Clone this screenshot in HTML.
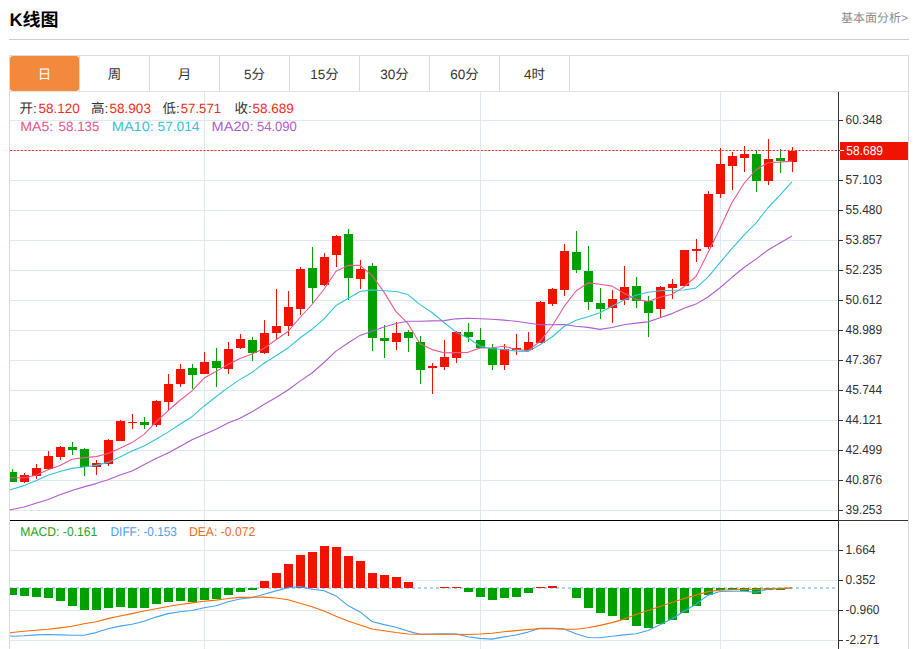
<!DOCTYPE html>
<html><head><meta charset="utf-8"><title>K线图</title>
<style>
html,body{margin:0;padding:0;background:#fff;}
body{width:913px;height:649px;overflow:hidden;position:relative;}
svg{position:absolute;left:0;top:0;display:block;}
text{white-space:pre;}
.c{font-family:"Liberation Sans","Noto Sans CJK SC",sans-serif;}
</style></head>
<body>
<svg width="913" height="649" viewBox="0 0 913 649" shape-rendering="crispEdges" text-rendering="geometricPrecision">
<defs>
<clipPath id="clipMain"><rect x="10" y="92" width="828" height="428"/></clipPath>
<clipPath id="clipMacd"><rect x="10" y="521" width="828" height="128"/></clipPath>
</defs>
<text x="9.5" y="25.5" class="c" font-size="18" font-weight="bold" fill="#000">K线图</text>
<text x="908" y="22.2" text-anchor="end" class="c" font-size="12" fill="#8c8c8c">基本面分析&gt;</text>
<rect x="9" y="39" width="900" height="1" fill="#cfcfcf"/>
<rect x="9" y="55" width="900" height="1" fill="#dedede"/>
<rect x="9" y="91" width="900" height="1" fill="#e3e3e3"/>
<rect x="10" y="56" width="69" height="35" rx="3" fill="#f28a3e" shape-rendering="geometricPrecision"/>
<text x="44.5" y="78.8" text-anchor="middle" class="c" font-size="13.5" fill="#fff">日</text>
<rect x="79" y="56" width="1" height="35" fill="#dadada"/>
<text x="114.5" y="78.8" text-anchor="middle" class="c" font-size="13.5" fill="#333">周</text>
<rect x="149" y="56" width="1" height="35" fill="#dadada"/>
<text x="184.5" y="78.8" text-anchor="middle" class="c" font-size="13.5" fill="#333">月</text>
<rect x="219" y="56" width="1" height="35" fill="#dadada"/>
<text x="254.5" y="78.8" text-anchor="middle" class="c" font-size="13.5" fill="#333">5分</text>
<rect x="289" y="56" width="1" height="35" fill="#dadada"/>
<text x="324.5" y="78.8" text-anchor="middle" class="c" font-size="13.5" fill="#333">15分</text>
<rect x="359" y="56" width="1" height="35" fill="#dadada"/>
<text x="394.5" y="78.8" text-anchor="middle" class="c" font-size="13.5" fill="#333">30分</text>
<rect x="429" y="56" width="1" height="35" fill="#dadada"/>
<text x="464.5" y="78.8" text-anchor="middle" class="c" font-size="13.5" fill="#333">60分</text>
<rect x="499" y="56" width="1" height="35" fill="#dadada"/>
<text x="534.5" y="78.8" text-anchor="middle" class="c" font-size="13.5" fill="#333">4时</text>
<rect x="569" y="56" width="1" height="35" fill="#dadada"/>
<rect x="9" y="55" width="1" height="594" fill="#dcdcdc"/>
<rect x="908" y="55" width="1" height="594" fill="#dcdcdc"/>
<rect x="10" y="120" width="828" height="1" fill="#dfe9f0"/>
<rect x="10" y="150" width="828" height="1" fill="#dfe9f0"/>
<rect x="10" y="180" width="828" height="1" fill="#dfe9f0"/>
<rect x="10" y="210" width="828" height="1" fill="#dfe9f0"/>
<rect x="10" y="240" width="828" height="1" fill="#dfe9f0"/>
<rect x="10" y="270" width="828" height="1" fill="#dfe9f0"/>
<rect x="10" y="300" width="828" height="1" fill="#dfe9f0"/>
<rect x="10" y="330" width="828" height="1" fill="#dfe9f0"/>
<rect x="10" y="360" width="828" height="1" fill="#dfe9f0"/>
<rect x="10" y="390" width="828" height="1" fill="#dfe9f0"/>
<rect x="10" y="420" width="828" height="1" fill="#dfe9f0"/>
<rect x="10" y="450" width="828" height="1" fill="#dfe9f0"/>
<rect x="10" y="480" width="828" height="1" fill="#dfe9f0"/>
<rect x="10" y="510" width="828" height="1" fill="#dfe9f0"/>
<rect x="10" y="550" width="828" height="1" fill="#dfe9f0"/>
<rect x="10" y="580" width="828" height="1" fill="#dfe9f0"/>
<rect x="10" y="610" width="828" height="1" fill="#dfe9f0"/>
<rect x="10" y="640" width="828" height="1" fill="#dfe9f0"/>
<rect x="204" y="92" width="1" height="428" fill="#dfe9f0"/>
<rect x="204" y="521" width="1" height="128" fill="#dfe9f0"/>
<rect x="480" y="92" width="1" height="428" fill="#dfe9f0"/>
<rect x="480" y="521" width="1" height="128" fill="#dfe9f0"/>
<rect x="720" y="92" width="1" height="428" fill="#dfe9f0"/>
<rect x="720" y="521" width="1" height="128" fill="#dfe9f0"/>
<g clip-path="url(#clipMain)">
<rect x="12" y="469.3" width="1" height="12.5" fill="#00a000"/>
<rect x="8" y="472" width="9" height="10" fill="#00a000"/>
<rect x="24" y="472.9" width="1" height="10.4" fill="#f01400"/>
<rect x="20" y="475" width="9" height="7" fill="#f01400"/>
<rect x="36" y="464.1" width="1" height="15.2" fill="#f01400"/>
<rect x="32" y="468" width="9" height="8" fill="#f01400"/>
<rect x="48" y="451.0" width="1" height="19.2" fill="#f01400"/>
<rect x="44" y="456" width="9" height="13" fill="#f01400"/>
<rect x="60" y="445.8" width="1" height="14.0" fill="#f01400"/>
<rect x="56" y="447" width="9" height="10" fill="#f01400"/>
<rect x="72" y="441.5" width="1" height="13.5" fill="#00a000"/>
<rect x="68" y="447" width="9" height="3" fill="#00a000"/>
<rect x="84" y="448.1" width="1" height="27.4" fill="#00a000"/>
<rect x="80" y="449" width="9" height="18" fill="#00a000"/>
<rect x="96" y="460.2" width="1" height="14.4" fill="#f01400"/>
<rect x="92" y="463" width="9" height="4" fill="#f01400"/>
<rect x="108" y="439.2" width="1" height="26.4" fill="#f01400"/>
<rect x="104" y="440" width="9" height="24" fill="#f01400"/>
<rect x="120" y="420.3" width="1" height="20.4" fill="#f01400"/>
<rect x="116" y="421" width="9" height="20" fill="#f01400"/>
<rect x="132" y="414.2" width="1" height="15.1" fill="#f01400"/>
<rect x="128" y="422" width="9" height="1" fill="#f01400"/>
<rect x="144" y="416.6" width="1" height="12.0" fill="#00a000"/>
<rect x="140" y="422" width="9" height="3" fill="#00a000"/>
<rect x="156" y="400.3" width="1" height="26.3" fill="#f01400"/>
<rect x="152" y="401" width="9" height="24" fill="#f01400"/>
<rect x="168" y="374.0" width="1" height="36.0" fill="#f01400"/>
<rect x="164" y="384" width="9" height="18" fill="#f01400"/>
<rect x="180" y="363.9" width="1" height="23.0" fill="#f01400"/>
<rect x="176" y="369" width="9" height="15" fill="#f01400"/>
<rect x="192" y="364.0" width="1" height="25.2" fill="#00a000"/>
<rect x="188" y="368" width="9" height="7" fill="#00a000"/>
<rect x="204" y="351.8" width="1" height="22.6" fill="#f01400"/>
<rect x="200" y="362" width="9" height="12" fill="#f01400"/>
<rect x="216" y="347.6" width="1" height="39.6" fill="#00a000"/>
<rect x="212" y="361" width="9" height="7" fill="#00a000"/>
<rect x="228" y="341.7" width="1" height="32.0" fill="#f01400"/>
<rect x="224" y="349" width="9" height="20" fill="#f01400"/>
<rect x="240" y="334.3" width="1" height="15.1" fill="#f01400"/>
<rect x="236" y="339" width="9" height="9" fill="#f01400"/>
<rect x="252" y="336.8" width="1" height="23.9" fill="#00a000"/>
<rect x="248" y="340" width="9" height="13" fill="#00a000"/>
<rect x="264" y="320.1" width="1" height="33.5" fill="#f01400"/>
<rect x="260" y="333" width="9" height="20" fill="#f01400"/>
<rect x="276" y="289.3" width="1" height="49.5" fill="#f01400"/>
<rect x="272" y="326" width="9" height="7" fill="#f01400"/>
<rect x="288" y="291.3" width="1" height="44.2" fill="#f01400"/>
<rect x="284" y="307" width="9" height="19" fill="#f01400"/>
<rect x="300" y="267.0" width="1" height="47.7" fill="#f01400"/>
<rect x="296" y="269" width="9" height="40" fill="#f01400"/>
<rect x="312" y="247.2" width="1" height="56.0" fill="#00a000"/>
<rect x="308" y="268" width="9" height="20" fill="#00a000"/>
<rect x="324" y="253.1" width="1" height="32.8" fill="#f01400"/>
<rect x="320" y="257" width="9" height="28" fill="#f01400"/>
<rect x="336" y="234.7" width="1" height="31.9" fill="#f01400"/>
<rect x="332" y="236" width="9" height="19" fill="#f01400"/>
<rect x="348" y="229.2" width="1" height="70.7" fill="#00a000"/>
<rect x="344" y="234" width="9" height="44" fill="#00a000"/>
<rect x="360" y="260.4" width="1" height="28.4" fill="#f01400"/>
<rect x="356" y="269" width="9" height="10" fill="#f01400"/>
<rect x="372" y="263.1" width="1" height="87.6" fill="#00a000"/>
<rect x="368" y="266" width="9" height="72" fill="#00a000"/>
<rect x="384" y="324.7" width="1" height="33.1" fill="#00a000"/>
<rect x="380" y="338" width="9" height="3" fill="#00a000"/>
<rect x="396" y="321.9" width="1" height="28.3" fill="#f01400"/>
<rect x="392" y="333" width="9" height="9" fill="#f01400"/>
<rect x="408" y="330.2" width="1" height="21.7" fill="#00a000"/>
<rect x="404" y="332" width="9" height="6" fill="#00a000"/>
<rect x="420" y="335.8" width="1" height="48.3" fill="#00a000"/>
<rect x="416" y="342" width="9" height="28" fill="#00a000"/>
<rect x="432" y="362.5" width="1" height="31.2" fill="#f01400"/>
<rect x="428" y="366" width="9" height="2" fill="#f01400"/>
<rect x="444" y="340.0" width="1" height="29.7" fill="#f01400"/>
<rect x="440" y="357" width="9" height="10" fill="#f01400"/>
<rect x="456" y="330.5" width="1" height="32.1" fill="#f01400"/>
<rect x="452" y="332" width="9" height="26" fill="#f01400"/>
<rect x="468" y="323.2" width="1" height="18.7" fill="#00a000"/>
<rect x="464" y="332" width="9" height="5" fill="#00a000"/>
<rect x="480" y="328.1" width="1" height="20.0" fill="#00a000"/>
<rect x="476" y="340" width="9" height="8" fill="#00a000"/>
<rect x="492" y="344.4" width="1" height="25.6" fill="#00a000"/>
<rect x="488" y="348" width="9" height="17" fill="#00a000"/>
<rect x="504" y="343.8" width="1" height="25.9" fill="#f01400"/>
<rect x="500" y="349" width="9" height="16" fill="#f01400"/>
<rect x="516" y="333.9" width="1" height="21.0" fill="#f01400"/>
<rect x="512" y="348" width="9" height="2" fill="#f01400"/>
<rect x="528" y="332.3" width="1" height="17.7" fill="#f01400"/>
<rect x="524" y="342" width="9" height="8" fill="#f01400"/>
<rect x="540" y="300.7" width="1" height="42.3" fill="#f01400"/>
<rect x="536" y="302" width="9" height="41" fill="#f01400"/>
<rect x="552" y="288.4" width="1" height="18.0" fill="#f01400"/>
<rect x="548" y="289" width="9" height="15" fill="#f01400"/>
<rect x="564" y="243.5" width="1" height="52.1" fill="#f01400"/>
<rect x="560" y="251" width="9" height="39" fill="#f01400"/>
<rect x="576" y="230.5" width="1" height="42.9" fill="#00a000"/>
<rect x="572" y="252" width="9" height="18" fill="#00a000"/>
<rect x="588" y="245.9" width="1" height="64.5" fill="#00a000"/>
<rect x="584" y="271" width="9" height="31" fill="#00a000"/>
<rect x="600" y="287.5" width="1" height="31.8" fill="#00a000"/>
<rect x="596" y="303" width="9" height="6" fill="#00a000"/>
<rect x="612" y="289.7" width="1" height="33.7" fill="#f01400"/>
<rect x="608" y="299" width="9" height="9" fill="#f01400"/>
<rect x="624" y="265.8" width="1" height="39.0" fill="#f01400"/>
<rect x="620" y="287" width="9" height="13" fill="#f01400"/>
<rect x="636" y="277.1" width="1" height="30.5" fill="#00a000"/>
<rect x="632" y="286" width="9" height="15" fill="#00a000"/>
<rect x="648" y="296.1" width="1" height="40.7" fill="#00a000"/>
<rect x="644" y="301" width="9" height="12" fill="#00a000"/>
<rect x="660" y="285.6" width="1" height="31.7" fill="#f01400"/>
<rect x="656" y="287" width="9" height="22" fill="#f01400"/>
<rect x="672" y="279.2" width="1" height="20.0" fill="#f01400"/>
<rect x="668" y="284" width="9" height="4" fill="#f01400"/>
<rect x="684" y="249.5" width="1" height="37.8" fill="#f01400"/>
<rect x="680" y="250" width="9" height="36" fill="#f01400"/>
<rect x="696" y="239.3" width="1" height="22.6" fill="#f01400"/>
<rect x="692" y="249" width="9" height="2" fill="#f01400"/>
<rect x="708" y="191.4" width="1" height="57.9" fill="#f01400"/>
<rect x="704" y="194" width="9" height="53" fill="#f01400"/>
<rect x="720" y="148.3" width="1" height="49.2" fill="#f01400"/>
<rect x="716" y="164" width="9" height="30" fill="#f01400"/>
<rect x="732" y="152.0" width="1" height="38.1" fill="#f01400"/>
<rect x="728" y="156" width="9" height="10" fill="#f01400"/>
<rect x="744" y="145.7" width="1" height="26.3" fill="#f01400"/>
<rect x="740" y="154" width="9" height="4" fill="#f01400"/>
<rect x="756" y="150.2" width="1" height="41.8" fill="#00a000"/>
<rect x="752" y="154" width="9" height="27" fill="#00a000"/>
<rect x="768" y="139.1" width="1" height="45.8" fill="#f01400"/>
<rect x="764" y="159" width="9" height="22" fill="#f01400"/>
<rect x="780" y="149.4" width="1" height="23.5" fill="#00a000"/>
<rect x="776" y="158" width="9" height="3" fill="#00a000"/>
<rect x="792" y="146.5" width="1" height="25.1" fill="#f01400"/>
<rect x="788" y="151" width="9" height="11" fill="#f01400"/>
<polyline points="10.0,477.70 12.0,477.70 24.0,477.70 36.0,475.30 48.0,469.80 60.0,465.54 72.0,459.30 84.0,457.60 96.0,456.64 108.0,453.46 120.0,448.30 132.0,442.60 144.0,434.34 156.0,421.92 168.0,410.78 180.0,400.28 192.0,390.82 204.0,378.06 216.0,371.54 228.0,364.40 240.0,358.48 252.0,354.10 264.0,348.38 276.0,339.80 288.0,331.46 300.0,317.50 312.0,304.50 324.0,289.24 336.0,271.28 348.0,265.42 360.0,265.38 372.0,275.32 384.0,292.16 396.0,311.60 408.0,323.72 420.0,343.84 432.0,349.60 444.0,352.84 456.0,352.66 468.0,352.34 480.0,348.02 492.0,347.78 504.0,346.24 516.0,349.50 528.0,350.60 540.0,341.44 552.0,326.28 564.0,306.70 576.0,291.02 588.0,282.92 600.0,284.18 612.0,286.12 624.0,293.18 636.0,299.36 648.0,301.56 660.0,297.20 672.0,294.24 684.0,286.90 696.0,276.54 708.0,252.76 720.0,228.24 732.0,202.54 744.0,183.42 756.0,169.76 768.0,162.74 780.0,162.16 792.0,161.16" fill="none" stroke="#ea5a8e" stroke-width="1.1" stroke-linejoin="round" shape-rendering="geometricPrecision"/>
<polyline points="10.0,490.00 12.0,489.30 24.0,485.60 36.0,480.70 48.0,475.20 60.0,471.50 72.0,468.40 84.0,467.00 96.0,465.40 108.0,462.40 120.0,456.92 132.0,450.95 144.0,445.97 156.0,439.28 168.0,432.12 180.0,424.29 192.0,416.71 204.0,406.20 216.0,396.73 228.0,387.59 240.0,379.38 252.0,372.46 264.0,363.22 276.0,355.67 288.0,347.93 300.0,337.99 312.0,329.30 324.0,318.81 336.0,305.54 348.0,298.44 360.0,291.44 372.0,289.91 384.0,290.70 396.0,291.44 408.0,294.57 420.0,304.61 432.0,312.46 444.0,322.50 456.0,332.13 468.0,338.03 480.0,345.93 492.0,348.69 504.0,349.54 516.0,351.08 528.0,351.47 540.0,344.73 552.0,337.03 564.0,326.47 576.0,320.26 588.0,316.76 600.0,312.81 612.0,306.20 624.0,299.94 636.0,295.19 648.0,292.24 660.0,290.69 672.0,290.18 684.0,290.04 696.0,287.95 708.0,277.16 720.0,262.72 732.0,248.39 744.0,235.16 756.0,223.15 768.0,207.75 780.0,195.20 792.0,181.85" fill="none" stroke="#33c3de" stroke-width="1.1" stroke-linejoin="round" shape-rendering="geometricPrecision"/>
<polyline points="10.0,509.90 12.0,509.50 24.0,507.00 36.0,503.30 48.0,499.40 60.0,494.80 72.0,490.50 84.0,486.90 96.0,483.60 108.0,479.70 120.0,475.00 132.0,471.00 144.0,464.80 156.0,458.60 168.0,452.90 180.0,446.50 192.0,439.70 204.0,434.50 216.0,429.20 228.0,423.00 240.0,418.15 252.0,411.71 264.0,404.59 276.0,397.48 288.0,390.02 300.0,381.14 312.0,373.00 324.0,362.50 336.0,351.13 348.0,343.01 360.0,335.41 372.0,331.19 384.0,326.96 396.0,323.56 408.0,321.25 420.0,321.30 432.0,320.88 444.0,320.66 456.0,318.83 468.0,318.24 480.0,318.69 492.0,319.30 504.0,320.12 516.0,321.26 528.0,323.02 540.0,324.67 552.0,324.75 564.0,324.49 576.0,326.19 588.0,327.39 600.0,329.37 612.0,327.44 624.0,324.74 636.0,323.13 648.0,321.86 660.0,317.71 672.0,313.61 684.0,308.25 696.0,304.10 708.0,296.96 720.0,287.76 732.0,277.29 744.0,267.55 756.0,259.17 768.0,249.99 780.0,242.94 792.0,236.02" fill="none" stroke="#b25dd0" stroke-width="1.1" stroke-linejoin="round" shape-rendering="geometricPrecision"/>
</g>
<line x1="10" y1="150.5" x2="837" y2="150.5" stroke="#f03020" stroke-width="1" stroke-dasharray="2.1,1.55" shape-rendering="geometricPrecision"/>
<g clip-path="url(#clipMacd)">
<line x1="10" y1="588" x2="837" y2="588" stroke="#a9d7ef" stroke-width="2" stroke-dasharray="3,3"/>
<rect x="8" y="588" width="9" height="7" fill="#00a000"/>
<rect x="20" y="588" width="9" height="8" fill="#00a000"/>
<rect x="32" y="588" width="9" height="9" fill="#00a000"/>
<rect x="44" y="588" width="9" height="10" fill="#00a000"/>
<rect x="56" y="588" width="9" height="13" fill="#00a000"/>
<rect x="68" y="588" width="9" height="18" fill="#00a000"/>
<rect x="80" y="588" width="9" height="22" fill="#00a000"/>
<rect x="92" y="588" width="9" height="22" fill="#00a000"/>
<rect x="104" y="588" width="9" height="20" fill="#00a000"/>
<rect x="116" y="588" width="9" height="19" fill="#00a000"/>
<rect x="128" y="588" width="9" height="20" fill="#00a000"/>
<rect x="140" y="588" width="9" height="20" fill="#00a000"/>
<rect x="152" y="588" width="9" height="16" fill="#00a000"/>
<rect x="164" y="588" width="9" height="14" fill="#00a000"/>
<rect x="176" y="588" width="9" height="13" fill="#00a000"/>
<rect x="188" y="588" width="9" height="14" fill="#00a000"/>
<rect x="200" y="588" width="9" height="12" fill="#00a000"/>
<rect x="212" y="588" width="9" height="11" fill="#00a000"/>
<rect x="224" y="588" width="9" height="7" fill="#00a000"/>
<rect x="236" y="588" width="9" height="4" fill="#00a000"/>
<rect x="248" y="588" width="9" height="2" fill="#00a000"/>
<rect x="260" y="581" width="9" height="7" fill="#f01400"/>
<rect x="272" y="573" width="9" height="15" fill="#f01400"/>
<rect x="284" y="564" width="9" height="24" fill="#f01400"/>
<rect x="296" y="555" width="9" height="33" fill="#f01400"/>
<rect x="308" y="552" width="9" height="36" fill="#f01400"/>
<rect x="320" y="546" width="9" height="42" fill="#f01400"/>
<rect x="332" y="547" width="9" height="41" fill="#f01400"/>
<rect x="344" y="556" width="9" height="32" fill="#f01400"/>
<rect x="356" y="561" width="9" height="27" fill="#f01400"/>
<rect x="368" y="573" width="9" height="15" fill="#f01400"/>
<rect x="380" y="575" width="9" height="13" fill="#f01400"/>
<rect x="392" y="577" width="9" height="11" fill="#f01400"/>
<rect x="404" y="582" width="9" height="6" fill="#f01400"/>
<rect x="440" y="587" width="9" height="1" fill="#f01400"/>
<rect x="452" y="587" width="9" height="1" fill="#f01400"/>
<rect x="464" y="588" width="9" height="4" fill="#00a000"/>
<rect x="476" y="588" width="9" height="9" fill="#00a000"/>
<rect x="488" y="588" width="9" height="12" fill="#00a000"/>
<rect x="500" y="588" width="9" height="10" fill="#00a000"/>
<rect x="512" y="588" width="9" height="9" fill="#00a000"/>
<rect x="524" y="588" width="9" height="5" fill="#00a000"/>
<rect x="536" y="587" width="9" height="1" fill="#f01400"/>
<rect x="548" y="586" width="9" height="2" fill="#f01400"/>
<rect x="572" y="588" width="9" height="10" fill="#00a000"/>
<rect x="584" y="588" width="9" height="20" fill="#00a000"/>
<rect x="596" y="588" width="9" height="25" fill="#00a000"/>
<rect x="608" y="588" width="9" height="28" fill="#00a000"/>
<rect x="620" y="588" width="9" height="32" fill="#00a000"/>
<rect x="632" y="588" width="9" height="38" fill="#00a000"/>
<rect x="644" y="588" width="9" height="40" fill="#00a000"/>
<rect x="656" y="588" width="9" height="36" fill="#00a000"/>
<rect x="668" y="588" width="9" height="32" fill="#00a000"/>
<rect x="680" y="588" width="9" height="25" fill="#00a000"/>
<rect x="692" y="588" width="9" height="18" fill="#00a000"/>
<rect x="704" y="588" width="9" height="7" fill="#00a000"/>
<rect x="716" y="588" width="9" height="2" fill="#00a000"/>
<rect x="728" y="588" width="9" height="2" fill="#00a000"/>
<rect x="740" y="588" width="9" height="3" fill="#00a000"/>
<rect x="752" y="588" width="9" height="6" fill="#00a000"/>
<rect x="764" y="588" width="9" height="2" fill="#00a000"/>
<rect x="776" y="588" width="9" height="2" fill="#00a000"/>
<polyline points="10.0,635.70 12.0,636.20 24.0,635.70 36.0,634.90 48.0,634.50 60.0,634.90 72.0,635.30 84.0,635.30 96.0,632.60 108.0,628.70 120.0,626.10 132.0,624.30 144.0,621.20 156.0,617.10 168.0,613.60 180.0,611.70 192.0,610.50 204.0,607.70 216.0,605.70 228.0,601.80 240.0,599.00 252.0,597.60 264.0,594.30 276.0,590.90 288.0,587.70 300.0,586.60 312.0,589.20 324.0,590.70 336.0,595.90 348.0,605.60 360.0,611.90 372.0,621.50 384.0,624.60 396.0,627.20 408.0,631.10 420.0,634.20 432.0,634.00 444.0,633.90 456.0,634.00 468.0,636.70 480.0,638.40 492.0,639.10 504.0,636.90 516.0,635.00 528.0,632.10 540.0,628.30 552.0,628.20 564.0,628.90 576.0,633.70 588.0,637.50 600.0,637.80 612.0,636.30 624.0,634.90 636.0,633.70 648.0,630.50 660.0,624.80 672.0,618.70 684.0,611.30 696.0,604.30 708.0,595.10 720.0,591.50 732.0,591.20 744.0,591.20 756.0,592.30 768.0,589.30 780.0,588.80 792.0,588.20" fill="none" stroke="#45a2f2" stroke-width="1.1" stroke-linejoin="round" shape-rendering="geometricPrecision"/>
<polyline points="10.0,632.90 12.0,632.50 24.0,631.30 36.0,630.30 48.0,629.30 60.0,627.90 72.0,626.30 84.0,623.80 96.0,621.70 108.0,618.60 120.0,616.00 132.0,613.60 144.0,611.00 156.0,608.70 168.0,606.50 180.0,604.50 192.0,602.90 204.0,601.30 216.0,600.10 228.0,598.50 240.0,597.40 252.0,597.20 264.0,597.10 276.0,598.00 288.0,599.70 300.0,603.20 312.0,606.70 324.0,611.10 336.0,616.30 348.0,621.10 360.0,625.00 372.0,629.00 384.0,630.70 396.0,632.50 408.0,634.00 420.0,634.30 432.0,634.30 444.0,634.30 456.0,634.30 468.0,634.50 480.0,634.00 492.0,633.20 504.0,631.70 516.0,630.60 528.0,629.50 540.0,628.60 552.0,628.60 564.0,629.20 576.0,629.30 588.0,627.80 600.0,625.40 612.0,622.60 624.0,619.10 636.0,614.40 648.0,610.40 660.0,606.50 672.0,602.50 684.0,598.60 696.0,595.10 708.0,591.60 720.0,590.30 732.0,589.80 744.0,589.50 756.0,589.30 768.0,588.80 780.0,588.40 792.0,587.90" fill="none" stroke="#ff6a00" stroke-width="1.1" stroke-linejoin="round" shape-rendering="geometricPrecision"/>
</g>
<rect x="10" y="520" width="828" height="1" fill="#000"/>
<rect x="839" y="520" width="69" height="1" fill="#333"/>
<rect x="838" y="92" width="1" height="557" fill="#333"/>
<rect x="838" y="120" width="5" height="1" fill="#333"/>
<text x="845.5" y="124.3" font-family="Liberation Sans,sans-serif" font-size="13" fill="#333" textLength="36.71" lengthAdjust="spacingAndGlyphs">60.348</text>
<rect x="838" y="150" width="5" height="1" fill="#333"/>
<rect x="838" y="180" width="5" height="1" fill="#333"/>
<text x="845.5" y="184.3" font-family="Liberation Sans,sans-serif" font-size="13" fill="#333" textLength="36.71" lengthAdjust="spacingAndGlyphs">57.103</text>
<rect x="838" y="210" width="5" height="1" fill="#333"/>
<text x="845.5" y="214.3" font-family="Liberation Sans,sans-serif" font-size="13" fill="#333" textLength="36.71" lengthAdjust="spacingAndGlyphs">55.480</text>
<rect x="838" y="240" width="5" height="1" fill="#333"/>
<text x="845.5" y="244.3" font-family="Liberation Sans,sans-serif" font-size="13" fill="#333" textLength="36.71" lengthAdjust="spacingAndGlyphs">53.857</text>
<rect x="838" y="270" width="5" height="1" fill="#333"/>
<text x="845.5" y="274.3" font-family="Liberation Sans,sans-serif" font-size="13" fill="#333" textLength="36.71" lengthAdjust="spacingAndGlyphs">52.235</text>
<rect x="838" y="300" width="5" height="1" fill="#333"/>
<text x="845.5" y="304.3" font-family="Liberation Sans,sans-serif" font-size="13" fill="#333" textLength="36.71" lengthAdjust="spacingAndGlyphs">50.612</text>
<rect x="838" y="330" width="5" height="1" fill="#333"/>
<text x="845.5" y="334.3" font-family="Liberation Sans,sans-serif" font-size="13" fill="#333" textLength="36.71" lengthAdjust="spacingAndGlyphs">48.989</text>
<rect x="838" y="360" width="5" height="1" fill="#333"/>
<text x="845.5" y="364.3" font-family="Liberation Sans,sans-serif" font-size="13" fill="#333" textLength="36.71" lengthAdjust="spacingAndGlyphs">47.367</text>
<rect x="838" y="390" width="5" height="1" fill="#333"/>
<text x="845.5" y="394.3" font-family="Liberation Sans,sans-serif" font-size="13" fill="#333" textLength="36.71" lengthAdjust="spacingAndGlyphs">45.744</text>
<rect x="838" y="420" width="5" height="1" fill="#333"/>
<text x="845.5" y="424.3" font-family="Liberation Sans,sans-serif" font-size="13" fill="#333" textLength="36.71" lengthAdjust="spacingAndGlyphs">44.121</text>
<rect x="838" y="450" width="5" height="1" fill="#333"/>
<text x="845.5" y="454.3" font-family="Liberation Sans,sans-serif" font-size="13" fill="#333" textLength="36.71" lengthAdjust="spacingAndGlyphs">42.499</text>
<rect x="838" y="480" width="5" height="1" fill="#333"/>
<text x="845.5" y="484.3" font-family="Liberation Sans,sans-serif" font-size="13" fill="#333" textLength="36.71" lengthAdjust="spacingAndGlyphs">40.876</text>
<rect x="838" y="510" width="5" height="1" fill="#333"/>
<text x="845.5" y="514.3" font-family="Liberation Sans,sans-serif" font-size="13" fill="#333" textLength="36.71" lengthAdjust="spacingAndGlyphs">39.253</text>
<rect x="838" y="550" width="5" height="1" fill="#333"/>
<text x="845.5" y="554.3" font-family="Liberation Sans,sans-serif" font-size="13" fill="#333" textLength="30.03" lengthAdjust="spacingAndGlyphs">1.664</text>
<rect x="838" y="580" width="5" height="1" fill="#333"/>
<text x="845.5" y="584.3" font-family="Liberation Sans,sans-serif" font-size="13" fill="#333" textLength="30.03" lengthAdjust="spacingAndGlyphs">0.352</text>
<rect x="838" y="610" width="5" height="1" fill="#333"/>
<text x="845.5" y="614.3" font-family="Liberation Sans,sans-serif" font-size="13" fill="#333" textLength="34.03" lengthAdjust="spacingAndGlyphs">-0.960</text>
<rect x="838" y="640" width="5" height="1" fill="#333"/>
<text x="845.5" y="644.3" font-family="Liberation Sans,sans-serif" font-size="13" fill="#333" textLength="34.03" lengthAdjust="spacingAndGlyphs">-2.271</text>
<rect x="840" y="142" width="68" height="18" fill="#f01400"/>
<rect x="840" y="150" width="4" height="1" fill="#fff"/>
<text x="846.3" y="155.3" font-family="Liberation Sans,sans-serif" font-size="13" fill="#fff" textLength="36.71" lengthAdjust="spacingAndGlyphs">58.689</text>
<text x="19.5" y="112.8" class="c" font-size="13.5" fill="#333">开:</text>
<text x="38.5" y="112.8" class="c" font-size="13.5" fill="#f42a1c" textLength="41.3" lengthAdjust="spacingAndGlyphs">58.120</text>
<text x="91.0" y="112.8" class="c" font-size="13.5" fill="#333">高:</text>
<text x="109.6" y="112.8" class="c" font-size="13.5" fill="#f42a1c" textLength="41.3" lengthAdjust="spacingAndGlyphs">58.903</text>
<text x="162.5" y="112.8" class="c" font-size="13.5" fill="#333">低:</text>
<text x="180.8" y="112.8" class="c" font-size="13.5" fill="#f42a1c" textLength="40.3" lengthAdjust="spacingAndGlyphs">57.571</text>
<text x="234.4" y="112.8" class="c" font-size="13.5" fill="#333">收:</text>
<text x="252.5" y="112.8" class="c" font-size="13.5" fill="#f42a1c" textLength="41.3" lengthAdjust="spacingAndGlyphs">58.689</text>
<text x="20.3" y="130.9" class="c" font-size="13.5" fill="#e8548a" textLength="33" lengthAdjust="spacingAndGlyphs">MA5:</text>
<text x="58.6" y="130.9" class="c" font-size="13.5" fill="#e8548a" textLength="40.8" lengthAdjust="spacingAndGlyphs">58.135</text>
<text x="111.8" y="130.9" class="c" font-size="13.5" fill="#35c2dc" textLength="42" lengthAdjust="spacingAndGlyphs">MA10:</text>
<text x="157.5" y="130.9" class="c" font-size="13.5" fill="#35c2dc" textLength="42.0" lengthAdjust="spacingAndGlyphs">57.014</text>
<text x="211.6" y="130.9" class="c" font-size="13.5" fill="#b15ccf" textLength="42" lengthAdjust="spacingAndGlyphs">MA20:</text>
<text x="256.9" y="130.9" class="c" font-size="13.5" fill="#b15ccf" textLength="40.0" lengthAdjust="spacingAndGlyphs">54.090</text>
<text x="20.3" y="536.2" class="c" font-size="12.8" fill="#27a127" textLength="77" lengthAdjust="spacingAndGlyphs">MACD: -0.161</text>
<text x="110.6" y="536.2" class="c" font-size="12.8" fill="#4aa0f0" textLength="66.3" lengthAdjust="spacingAndGlyphs">DIFF: -0.153</text>
<text x="188.9" y="536.2" class="c" font-size="12.8" fill="#f06a20" textLength="66.4" lengthAdjust="spacingAndGlyphs">DEA: -0.072</text>
</svg>
</body></html>
